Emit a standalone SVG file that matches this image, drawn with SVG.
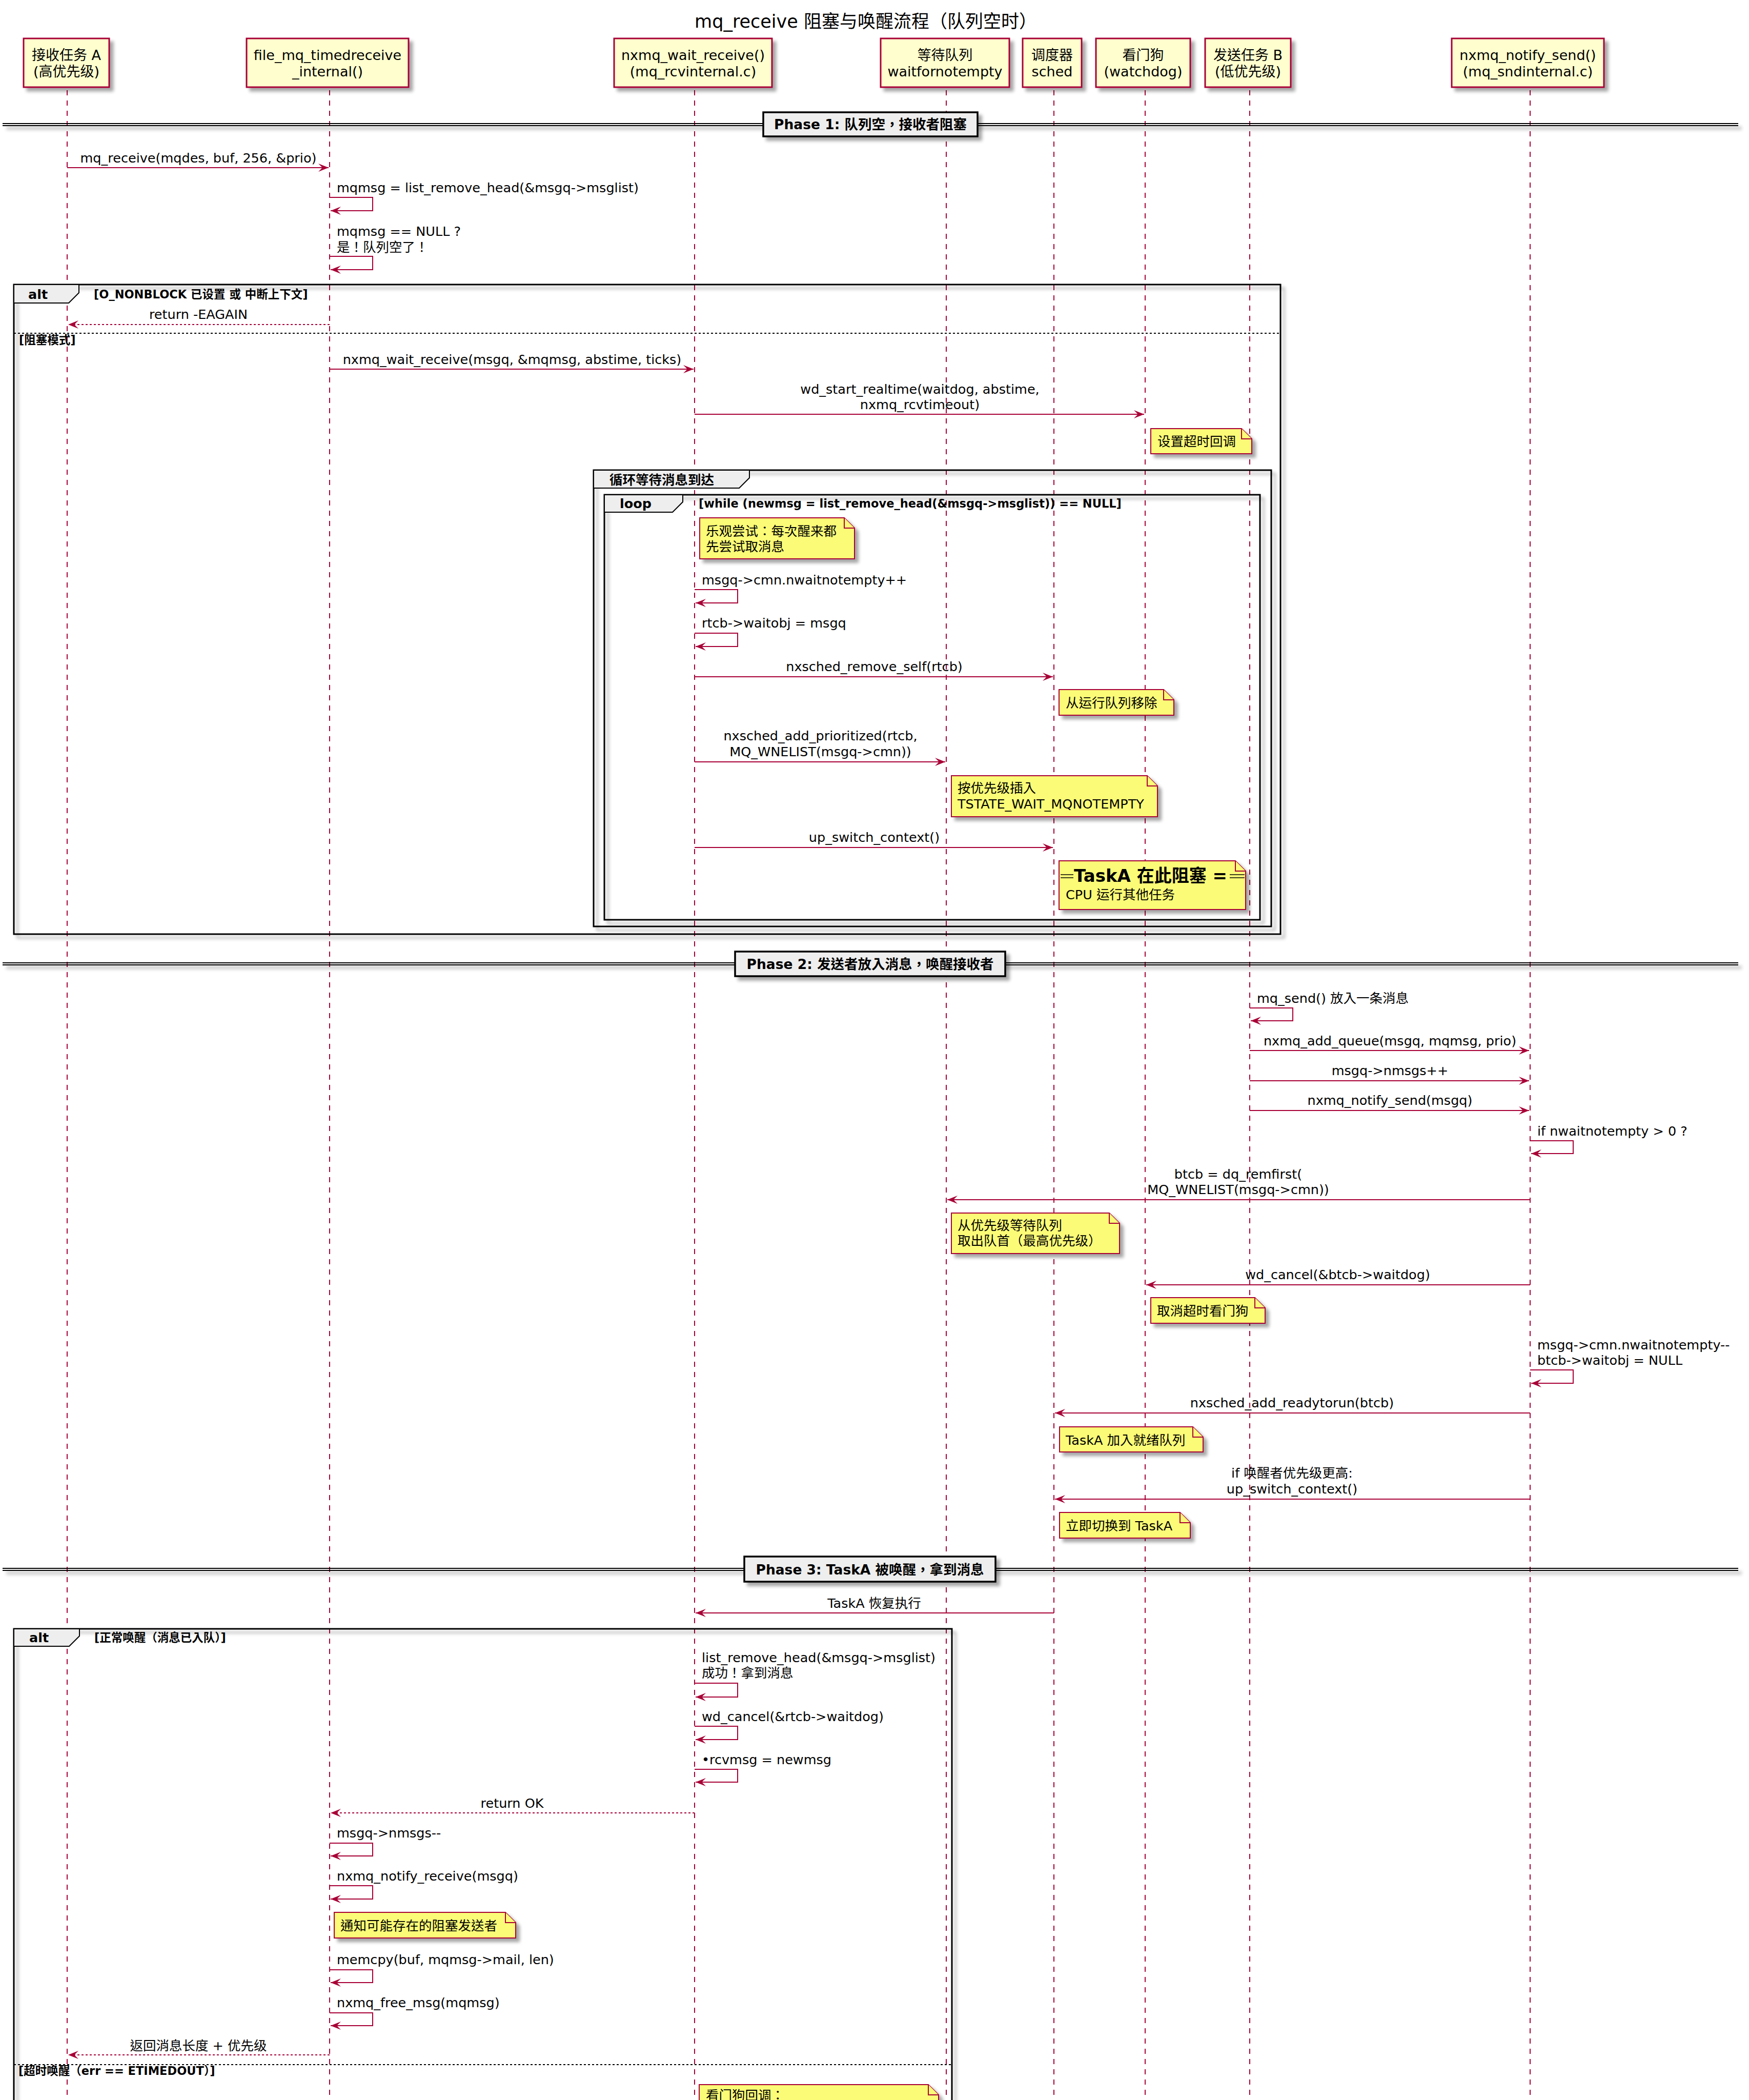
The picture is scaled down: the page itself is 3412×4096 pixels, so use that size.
<svg xmlns="http://www.w3.org/2000/svg" width="3412" height="4096" viewBox="0 0 3412 4096">
<defs>
<filter id="sh" filterUnits="userSpaceOnUse" x="0" y="0" width="3412" height="4200">
<feGaussianBlur in="SourceAlpha" stdDeviation="3"/>
<feOffset dx="7" dy="7" result="b"/>
<feComponentTransfer><feFuncA type="linear" slope="0.35"/></feComponentTransfer>
<feMerge><feMergeNode/><feMergeNode in="SourceGraphic"/></feMerge>
</filter>
<marker id="ah" markerUnits="userSpaceOnUse" markerWidth="22" markerHeight="18" refX="20" refY="8" orient="auto">
<path d="M0,0 L20,8 L0,16 L8,8 Z" fill="#A80036"/>
</marker>
<style>
text{font-family:"DejaVu Sans","Noto Sans CJK TC","Noto Sans CJK SC",sans-serif;fill:#000}
.t{font-size:25.5px}
.c{text-anchor:middle}
.b{font-weight:bold}
.pt{font-size:27px;text-anchor:middle}
.lf{stroke:#A80036;stroke-width:2;stroke-dasharray:10,10;fill:none}
.pb{fill:#FEFECE;stroke:#A80036;stroke-width:3}
.m{stroke:#A80036;stroke-width:2;fill:none;marker-end:url(#ah)}
.r{stroke-dasharray:4,4}
.nt{fill:#FBFB77;stroke:#A80036;stroke-width:2}
.fr{fill:none;stroke:#000;stroke-width:3}
.tab{fill:#EEEEEE;stroke:#000;stroke-width:2}
.sep{stroke:#000;stroke-width:2;fill:none}
.dsep{stroke:#000;stroke-width:2;stroke-dasharray:4,4;fill:none}
.gh{font-size:22.5px;font-weight:bold}
.ph{font-size:26.5px;font-weight:bold;text-anchor:middle}
</style>
</defs>
<rect width="3412" height="4096" fill="#FFFFFF"/>
<text x="1689" y="54" style="font-size:35px" class="c">mq_receive 阻塞与唤醒流程（队列空时）</text>

<g id="lifelines">
<line class="lf" x1="131" y1="176" x2="131" y2="4096"/>
<line class="lf" x1="643" y1="176" x2="643" y2="4096"/>
<line class="lf" x1="1355" y1="176" x2="1355" y2="4096"/>
<line class="lf" x1="1846" y1="176" x2="1846" y2="4096"/>
<line class="lf" x1="2056" y1="176" x2="2056" y2="4096"/>
<line class="lf" x1="2234" y1="176" x2="2234" y2="4096"/>
<line class="lf" x1="2438" y1="176" x2="2438" y2="4096"/>
<line class="lf" x1="2985" y1="176" x2="2985" y2="4096"/>
</g>

<g id="pA"><rect class="pb" x="46" y="75" width="167" height="95" filter="url(#sh)"/><text class="pt" x="129.5" y="117">接收任务 A</text><text class="pt" x="129.5" y="149">(高优先级)</text></g>
<g id="pFile"><rect class="pb" x="481" y="75" width="316" height="95" filter="url(#sh)"/><text class="pt" x="639" y="117">file_mq_timedreceive</text><text class="pt" x="639" y="149">_internal()</text></g>
<g id="pWait"><rect class="pb" x="1198" y="75" width="308" height="95" filter="url(#sh)"/><text class="pt" x="1352" y="117">nxmq_wait_receive()</text><text class="pt" x="1352" y="149">(mq_rcvinternal.c)</text></g>
<g id="pQueue"><rect class="pb" x="1718" y="75" width="251" height="95" filter="url(#sh)"/><text class="pt" x="1843.5" y="117">等待队列</text><text class="pt" x="1843.5" y="149">waitfornotempty</text></g>
<g id="pSched"><rect class="pb" x="1995" y="75" width="115" height="95" filter="url(#sh)"/><text class="pt" x="2052.5" y="117">调度器</text><text class="pt" x="2052.5" y="149">sched</text></g>
<g id="pWdog"><rect class="pb" x="2138" y="75" width="184" height="95" filter="url(#sh)"/><text class="pt" x="2230" y="117">看门狗</text><text class="pt" x="2230" y="149">(watchdog)</text></g>
<g id="pB"><rect class="pb" x="2351" y="75" width="167" height="95" filter="url(#sh)"/><text class="pt" x="2434.5" y="117">发送任务 B</text><text class="pt" x="2434.5" y="149">(低优先级)</text></g>
<g id="pNotify"><rect class="pb" x="2832" y="75" width="297" height="95" filter="url(#sh)"/><text class="pt" x="2980.5" y="117">nxmq_notify_send()</text><text class="pt" x="2980.5" y="149">(mq_sndinternal.c)</text></g>

<!-- Phase separators -->
<g id="phase1">
<g filter="url(#sh)"><line class="sep" x1="5" y1="241" x2="3391" y2="241"/><line class="sep" x1="5" y1="245" x2="3391" y2="245"/></g>
<rect x="1489" y="219" width="418" height="47" fill="#EEEEEE" stroke="#000" stroke-width="3.5" filter="url(#sh)"/>
<text class="ph" x="1698" y="252">Phase 1: 队列空，接收者阻塞</text>
</g>
<g id="phase2">
<g filter="url(#sh)"><line class="sep" x1="5" y1="1878" x2="3391" y2="1878"/><line class="sep" x1="5" y1="1882" x2="3391" y2="1882"/></g>
<rect x="1434" y="1856" width="527" height="48" fill="#EEEEEE" stroke="#000" stroke-width="3.5" filter="url(#sh)"/>
<text class="ph" x="1697.5" y="1890">Phase 2: 发送者放入消息，唤醒接收者</text>
</g>
<g id="phase3">
<g filter="url(#sh)"><line class="sep" x1="5" y1="3059" x2="3391" y2="3059"/><line class="sep" x1="5" y1="3063" x2="3391" y2="3063"/></g>
<rect x="1452" y="3036" width="490" height="49" fill="#EEEEEE" stroke="#000" stroke-width="3.5" filter="url(#sh)"/>
<text class="ph" x="1697" y="3071">Phase 3: TaskA 被唤醒，拿到消息</text>
</g>

<!-- Frames -->
<g id="alt1">
<rect class="fr" x="27" y="555" width="2471" height="1267" filter="url(#sh)"/>
<path class="tab" d="M27,555 H154 V571 L134,591 H27 Z"/>
<text class="t b" x="55" y="583">alt</text>
<text class="gh" x="183" y="582">[O_NONBLOCK 已设置 或 中断上下文]</text>
<line class="dsep" x1="27" y1="650" x2="2498" y2="650"/>
<text class="gh" x="37" y="671">[阻塞模式]</text>
</g>
<g id="group1">
<rect class="fr" x="1158" y="917" width="1322" height="890" filter="url(#sh)"/>
<path class="tab" d="M1158,917 H1462 V932 L1442,952 H1158 Z"/>
<text class="t b" x="1189" y="945">循环等待消息到达</text>
</g>
<g id="loop1">
<rect class="fr" x="1179" y="965" width="1279" height="829" filter="url(#sh)"/>
<path class="tab" d="M1179,965 H1332 V979 L1312,999 H1179 Z"/>
<text class="t b" x="1209" y="991">loop</text>
<text class="gh" x="1363" y="990">[while (newmsg = list_remove_head(&amp;msgq-&gt;msglist)) == NULL]</text>
</g>
<g id="alt3">
<rect class="fr" x="27" y="3177" width="1830" height="960" filter="url(#sh)"/>
<path class="tab" d="M27,3177 H155 V3191 L135,3211 H27 Z"/>
<text class="t b" x="57" y="3203">alt</text>
<text class="gh" x="184" y="3202">[正常唤醒（消息已入队）]</text>
<line class="dsep" x1="27" y1="4027" x2="1857" y2="4027"/>
<text class="gh" x="36" y="4047">[超时唤醒（err == ETIMEDOUT）]</text>
</g>

<!-- Connectors -->
<g id="connectors">
<line class="m" x1="131" y1="327" x2="641" y2="327"/>
<path class="m" d="M643,385 H727 V411 H645"/>
<path class="m" d="M643,500 H727 V526 H645"/>
<line class="m r" x1="643" y1="633" x2="133" y2="633"/>
<line class="m" x1="643" y1="720" x2="1353" y2="720"/>
<line class="m" x1="1355" y1="808" x2="2232" y2="808"/>
<path class="m" d="M1355,1150 H1439 V1176 H1357"/>
<path class="m" d="M1355,1235 H1439 V1261 H1357"/>
<line class="m" x1="1355" y1="1320" x2="2054" y2="1320"/>
<line class="m" x1="1355" y1="1486" x2="1844" y2="1486"/>
<line class="m" x1="1355" y1="1653" x2="2054" y2="1653"/>
<path class="m" d="M2438,1966 H2522 V1991 H2440"/>
<line class="m" x1="2438" y1="2049" x2="2983" y2="2049"/>
<line class="m" x1="2438" y1="2108" x2="2983" y2="2108"/>
<line class="m" x1="2438" y1="2166" x2="2983" y2="2166"/>
<path class="m" d="M2985,2225 H3069 V2250 H2987"/>
<line class="m" x1="2985" y1="2340" x2="1848" y2="2340"/>
<line class="m" x1="2985" y1="2506" x2="2236" y2="2506"/>
<path class="m" d="M2985,2672 H3069 V2698 H2987"/>
<line class="m" x1="2985" y1="2756" x2="2058" y2="2756"/>
<line class="m" x1="2985" y1="2924" x2="2058" y2="2924"/>
<line class="m" x1="2056" y1="3146" x2="1357" y2="3146"/>
<path class="m" d="M1355,3283 H1439 V3310 H1357"/>
<path class="m" d="M1355,3367 H1439 V3393 H1357"/>
<path class="m" d="M1355,3451 H1439 V3476 H1357"/>
<line class="m r" x1="1355" y1="3536" x2="645" y2="3536"/>
<path class="m" d="M643,3595 H727 V3620 H645"/>
<path class="m" d="M643,3678 H727 V3704 H645"/>
<path class="m" d="M643,3842 H727 V3867 H645"/>
<path class="m" d="M643,3926 H727 V3951 H645"/>
<line class="m r" x1="643" y1="4008" x2="133" y2="4008"/>
</g>

<!-- Message labels -->
<g id="labels" class="t">
<text class="c" x="387" y="317">mq_receive(mqdes, buf, 256, &amp;prio)</text>
<text x="657" y="375">mqmsg = list_remove_head(&amp;msgq-&gt;msglist)</text>
<text x="657" y="460">mqmsg == NULL ?</text>
<text x="657" y="491">是！队列空了！</text>
<text class="c" x="387" y="622">return -EAGAIN</text>
<text class="c" x="999" y="710">nxmq_wait_receive(msgq, &amp;mqmsg, abstime, ticks)</text>
<text class="c" x="1794.5" y="768">wd_start_realtime(waitdog, abstime,</text>
<text class="c" x="1794.5" y="798">nxmq_rcvtimeout)</text>
<text x="1369" y="1140">msgq-&gt;cmn.nwaitnotempty++</text>
<text x="1369" y="1224">rtcb-&gt;waitobj = msgq</text>
<text class="c" x="1705.5" y="1309">nxsched_remove_self(rtcb)</text>
<text class="c" x="1600.5" y="1444">nxsched_add_prioritized(rtcb,</text>
<text class="c" x="1600.5" y="1475">MQ_WNELIST(msgq-&gt;cmn))</text>
<text class="c" x="1705.5" y="1642">up_switch_context()</text>
<text x="2452" y="1956">mq_send() 放入一条消息</text>
<text class="c" x="2711.5" y="2039">nxmq_add_queue(msgq, mqmsg, prio)</text>
<text class="c" x="2711.5" y="2097">msgq-&gt;nmsgs++</text>
<text class="c" x="2711.5" y="2155">nxmq_notify_send(msgq)</text>
<text x="2999" y="2215">if nwaitnotempty &gt; 0 ?</text>
<text class="c" x="2415.5" y="2299">btcb = dq_remfirst(</text>
<text class="c" x="2415.5" y="2329">MQ_WNELIST(msgq-&gt;cmn))</text>
<text class="c" x="2609.5" y="2495">wd_cancel(&amp;btcb-&gt;waitdog)</text>
<text x="2999" y="2632">msgq-&gt;cmn.nwaitnotempty--</text>
<text x="2999" y="2662">btcb-&gt;waitobj = NULL</text>
<text class="c" x="2520.5" y="2745">nxsched_add_readytorun(btcb)</text>
<text class="c" x="2520.5" y="2882">if 唤醒者优先级更高:</text>
<text class="c" x="2520.5" y="2913">up_switch_context()</text>
<text class="c" x="1705.5" y="3136">TaskA 恢复执行</text>
<text x="1369" y="3242">list_remove_head(&amp;msgq-&gt;msglist)</text>
<text x="1369" y="3272">成功！拿到消息</text>
<text x="1369" y="3357">wd_cancel(&amp;rtcb-&gt;waitdog)</text>
<text x="1369" y="3441">•rcvmsg = newmsg</text>
<text class="c" x="999" y="3526">return OK</text>
<text x="657" y="3584">msgq-&gt;nmsgs--</text>
<text x="657" y="3668">nxmq_notify_receive(msgq)</text>
<text x="657" y="3831">memcpy(buf, mqmsg-&gt;mail, len)</text>
<text x="657" y="3915">nxmq_free_msg(mqmsg)</text>
<text class="c" x="387" y="3999">返回消息长度 + 优先级</text>
</g>

<!-- Notes -->
<g id="n1"><path class="nt" filter="url(#sh)" d="M2245,836 H2422 L2442,856 V885 H2245 Z"/><path class="nt" d="M2422,836 V856 H2442"/><text class="t" x="2258" y="870">设置超时回调</text></g>
<g id="n2"><path class="nt" filter="url(#sh)" d="M1365,1010 H1647 L1667,1030 V1090 H1365 Z"/><path class="nt" d="M1647,1010 V1030 H1667"/><text class="t" x="1377" y="1045">乐观尝试：每次醒来都</text><text class="t" x="1377" y="1075">先尝试取消息</text></g>
<g id="n3"><path class="nt" filter="url(#sh)" d="M2066,1345 H2270 L2290,1365 V1395 H2066 Z"/><path class="nt" d="M2270,1345 V1365 H2290"/><text class="t" x="2079" y="1380">从运行队列移除</text></g>
<g id="n4"><path class="nt" filter="url(#sh)" d="M1856,1513 H2238 L2258,1533 V1593 H1856 Z"/><path class="nt" d="M2238,1513 V1533 H2258"/><text class="t" x="1868" y="1546">按优先级插入</text><text class="t" x="1868" y="1577">TSTATE_WAIT_MQNOTEMPTY</text></g>
<g id="n5"><path class="nt" filter="url(#sh)" d="M2066,1679 H2410 L2430,1699 V1774 H2066 Z"/><path class="nt" d="M2410,1679 V1699 H2430"/>
<line x1="2069" y1="1706" x2="2094" y2="1706" stroke="#000" stroke-width="1.5"/><line x1="2069" y1="1712" x2="2094" y2="1712" stroke="#000" stroke-width="1.5"/>
<text class="b" style="font-size:34px" x="2095" y="1720">TaskA 在此阻塞 =</text>
<line x1="2399" y1="1706" x2="2428" y2="1706" stroke="#000" stroke-width="1.5"/><line x1="2399" y1="1712" x2="2428" y2="1712" stroke="#000" stroke-width="1.5"/>
<text class="t" x="2079" y="1754">CPU 运行其他任务</text></g>
<g id="n6"><path class="nt" filter="url(#sh)" d="M1856,2366 H2164 L2184,2386 V2445 H1856 Z"/><path class="nt" d="M2164,2366 V2386 H2184"/><text class="t" x="1868" y="2399">从优先级等待队列</text><text class="t" x="1868" y="2429">取出队首（最高优先级）</text></g>
<g id="n7"><path class="nt" filter="url(#sh)" d="M2245,2531 H2448 L2468,2551 V2581 H2245 Z"/><path class="nt" d="M2448,2531 V2551 H2468"/><text class="t" x="2257" y="2566">取消超时看门狗</text></g>
<g id="n8"><path class="nt" filter="url(#sh)" d="M2067,2783 H2327 L2347,2803 V2832 H2067 Z"/><path class="nt" d="M2327,2783 V2803 H2347"/><text class="t" x="2079" y="2818">TaskA 加入就绪队列</text></g>
<g id="n9"><path class="nt" filter="url(#sh)" d="M2067,2950 H2302 L2322,2970 V3000 H2067 Z"/><path class="nt" d="M2302,2950 V2970 H2322"/><text class="t" x="2079" y="2985">立即切换到 TaskA</text></g>
<g id="n10"><path class="nt" filter="url(#sh)" d="M652,3730 H986 L1006,3750 V3780 H652 Z"/><path class="nt" d="M986,3730 V3750 H1006"/><text class="t" x="664" y="3765">通知可能存在的阻塞发送者</text></g>
<g id="n11"><path class="nt" filter="url(#sh)" d="M1364,4066 H1811 L1831,4086 V4160 H1364 Z"/><path class="nt" d="M1811,4066 V4086 H1831"/><text class="t" x="1377" y="4096">看门狗回调：</text></g>
</svg>
